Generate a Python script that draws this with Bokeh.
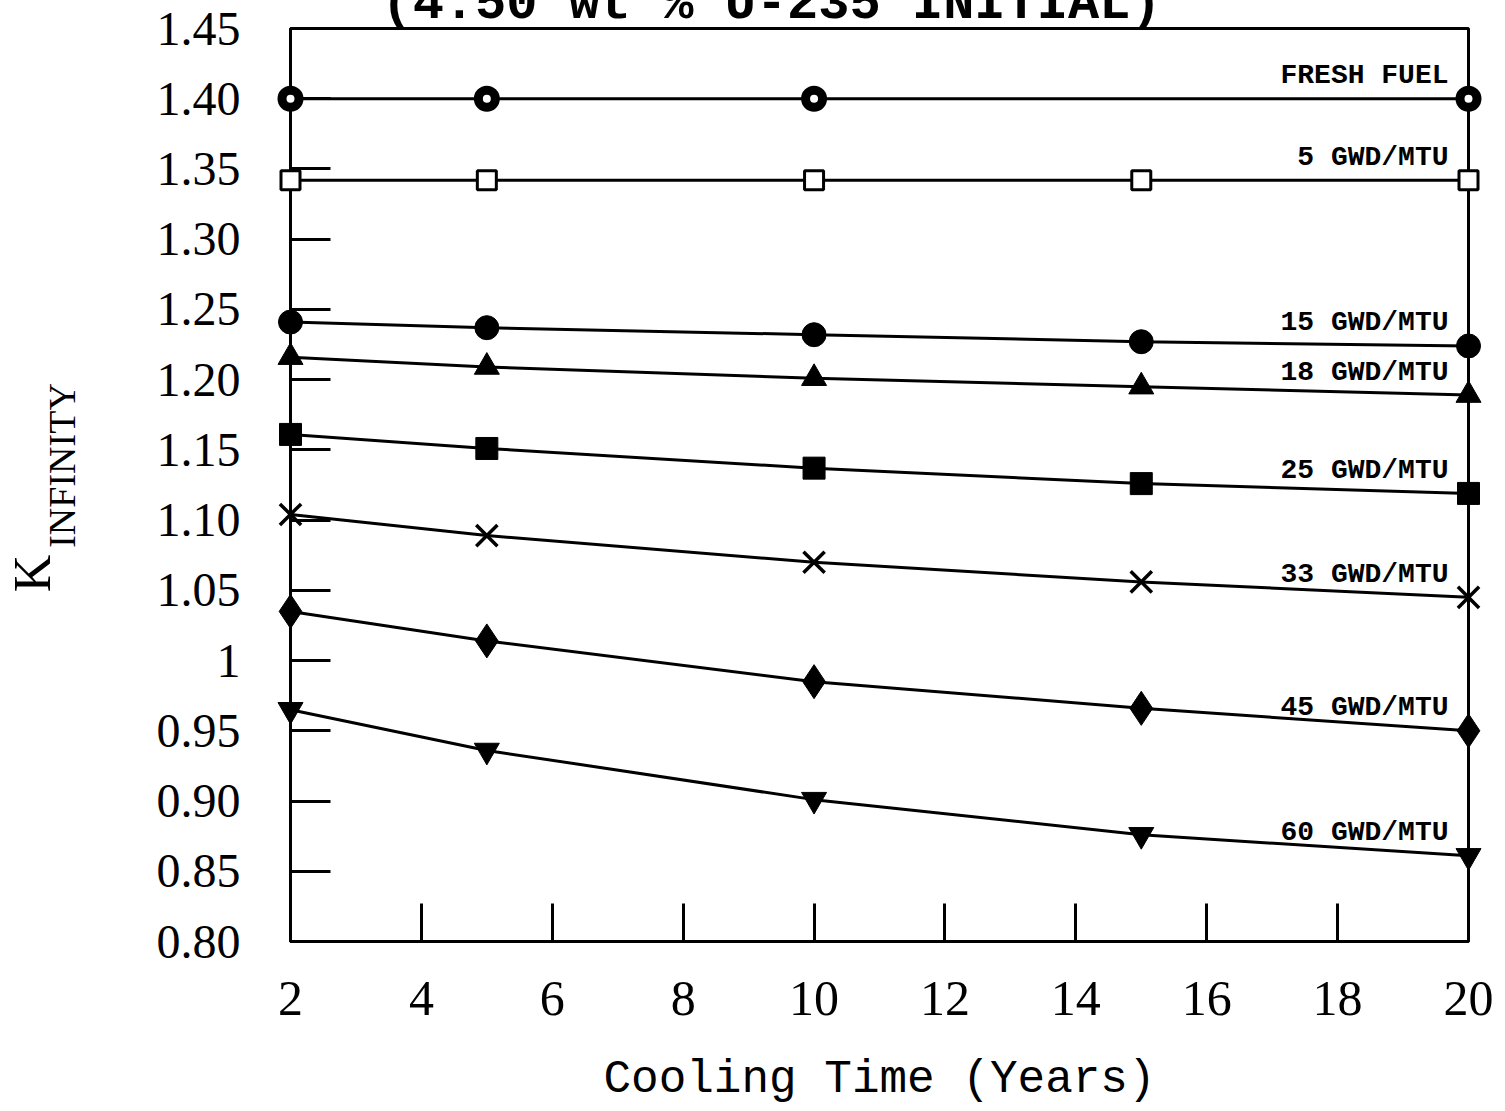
import math
from bokeh.plotting import figure
from bokeh.models import Range1d, FixedTicker
from bokeh.core.properties import value
from bokeh.embed import file_html
from bokeh.resources import INLINE

# ---- data ----
cooling_years = [2, 5, 10, 15, 20]
fresh_years = [2, 5, 10, 20]
fresh_fuel = [1.400, 1.400, 1.400, 1.400]
gwd_5 = [1.342, 1.342, 1.342, 1.342, 1.342]
gwd_15 = [1.241, 1.237, 1.232, 1.227, 1.224]
gwd_18 = [1.216, 1.209, 1.201, 1.195, 1.189]
gwd_25 = [1.161, 1.151, 1.137, 1.126, 1.119]
gwd_33 = [1.104, 1.089, 1.070, 1.056, 1.045]
gwd_45 = [1.035, 1.014, 0.985, 0.966, 0.950]
gwd_60 = [0.965, 0.936, 0.901, 0.876, 0.861]
series_labels = ["FRESH FUEL", "5 GWD/MTU", "15 GWD/MTU", "18 GWD/MTU",
                 "25 GWD/MTU", "33 GWD/MTU", "45 GWD/MTU", "60 GWD/MTU"]
y_ticks = [0.80, 0.85, 0.90, 0.95, 1.00, 1.05, 1.10, 1.15, 1.20, 1.25, 1.30, 1.35, 1.40, 1.45]
y_tick_labels = ["0.80", "0.85", "0.90", "0.95", "1", "1.05", "1.10", "1.15", "1.20",
                 "1.25", "1.30", "1.35", "1.40", "1.45"]
x_ticks = [2, 4, 6, 8, 10, 12, 14, 16, 18, 20]
title_text = "(4.50 wt % U-235 INITIAL)"
x_title = "Cooling Time (Years)"
y_title_main = "K"
y_title_sub = "INFINITY"

X_MIN, X_MAX = 2, 20
Y_MIN, Y_MAX = 0.80, 1.45
p = figure(width=1505, height=1111, output_backend="svg", toolbar_location=None,
           x_range=Range1d(X_MIN, X_MAX), y_range=Range1d(Y_MIN, Y_MAX),
           min_border_left=290, min_border_right=37, min_border_top=28, min_border_bottom=170)
p.background_fill_color = "white"
p.border_fill_color = "white"
p.outline_line_color = "black"
p.outline_line_width = 3
p.xgrid.visible = False
p.ygrid.visible = False

# frame geometry in pixels (used to place the free-standing texts)
FRAME_LEFT, FRAME_TOP, FRAME_W, FRAME_H = 290, 28, 1178, 913
def px_to_x(px):
    return X_MIN + (px - FRAME_LEFT) * (X_MAX - X_MIN) / FRAME_W
def px_to_y(py):
    return Y_MIN + (FRAME_TOP + FRAME_H - py) * (Y_MAX - Y_MIN) / FRAME_H

# axes
xa = p.xaxis[0]
xa.ticker = FixedTicker(ticks=x_ticks)
xa.major_tick_in = 38
xa.major_tick_out = 0
xa.minor_tick_line_color = None
xa.axis_line_width = 3
xa.major_tick_line_width = 3
xa.major_label_standoff = 40
xa.major_label_text_font = "Liberation Serif"
xa.major_label_text_font_size = "50px"
xa.major_label_text_color = "black"
xa.axis_label = x_title
xa.axis_label_text_font = "Liberation Mono"
xa.axis_label_text_font_size = "46px"
xa.axis_label_text_font_style = "normal"
xa.axis_label_text_color = "black"
xa.axis_label_standoff = 36

ya = p.yaxis[0]
ya.ticker = FixedTicker(ticks=y_ticks)
ya.major_label_overrides = {t: l for t, l in zip(y_ticks, y_tick_labels)}
ya.major_tick_in = 40
ya.major_tick_out = 0
ya.minor_tick_line_color = None
ya.axis_line_width = 3
ya.major_tick_line_width = 3
ya.major_label_standoff = 50
ya.major_label_text_font = "Liberation Serif"
ya.major_label_text_font_size = "48px"
ya.major_label_text_color = "black"

# series
series = [
    (fresh_years, fresh_fuel, dict(marker="circle", size=17, fill_color="white", line_color="black", line_width=9)),
    (cooling_years, gwd_5, dict(marker="square", size=19, fill_color="white", line_color="black", line_width=3)),
    (cooling_years, gwd_15, dict(marker="circle", size=24, fill_color="black", line_color="black", line_width=1)),
    (cooling_years, gwd_18, dict(marker="triangle", size=25, fill_color="black", line_color="black", line_width=1)),
    (cooling_years, gwd_25, dict(marker="square", size=22, fill_color="black", line_color="black", line_width=1)),
    (cooling_years, gwd_33, dict(marker="x", size=30, fill_color=None, line_color="black", line_width=3.5)),
    (cooling_years, gwd_45, dict(marker="diamond", size=34, fill_color="black", line_color="black", line_width=1)),
    (cooling_years, gwd_60, dict(marker="inverted_triangle", size=25, fill_color="black", line_color="black", line_width=1)),
]
for xs, ys, style in series:
    p.line(xs, ys, line_color="black", line_width=3)
    p.scatter(xs, ys, level="overlay", **style)

# labels above each curve near right end
p.text(x=[s[0][-1] for s in series], y=[s[1][-1] for s in series], text=series_labels,
       text_font=value("Liberation Mono"), text_font_style="bold", text_font_size="28px",
       text_color="black", text_align="right", text_baseline="alphabetic",
       x_offset=-20, y_offset=-23)

# title (cropped at top of page, as in the reference)
p.text(x=[px_to_x(771)], y=[px_to_y(4)], text=[title_text], level="overlay",
       text_font=value("Liberation Mono"), text_font_style="bold", text_font_size="52px",
       text_color="black", text_align="center", text_baseline="alphabetic")

# y axis title: K with subscript INFINITY (rotated)
p.text(x=[px_to_x(32)], y=[px_to_y(573)], text=[y_title_main], level="overlay", angle=math.pi / 2,
       text_font=value("Liberation Serif"), text_font_size="52px",
       text_color="black", text_align="center", text_baseline="alphabetic")
p.text(x=[px_to_x(61)], y=[px_to_y(465)], text=[y_title_sub], level="overlay", angle=math.pi / 2,
       text_font=value("Liberation Serif"), text_font_size="38px",
       text_color="black", text_align="center", text_baseline="alphabetic")

open("out.html", "w").write(file_html(p, INLINE))
